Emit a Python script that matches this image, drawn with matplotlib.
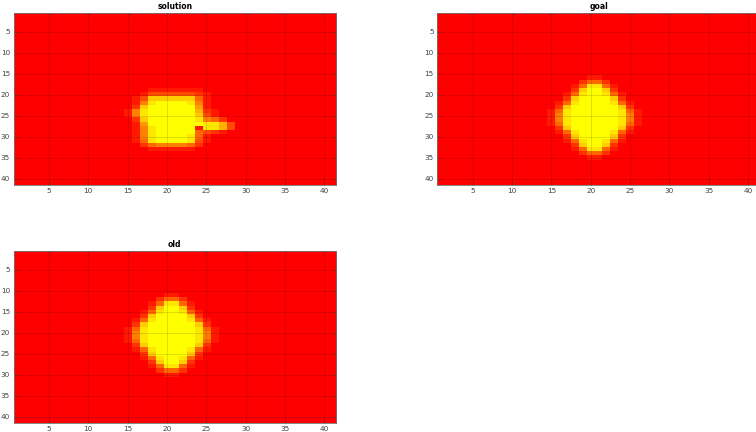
"""Three 41x41 scalar fields (solution / goal / old) drawn imagesc-style with the autumn colormap."""

import matplotlib
matplotlib.use("Agg")
import matplotlib.pyplot as plt
import numpy as np

GRID_N = 41
TICKS = [5, 10, 15, 20, 25, 30, 35, 40]

# ─── Data (values in tenths; everything else is 0) ───────────────────────────

# "old" and "goal" share the same blob; goal sits 5 rows lower.
BLOB_COLS = list(range(15, 27))          # columns 15..26
BLOB = [
    [0, 0, 0, 0, 0, 1, 1, 0, 0, 0, 0, 0],
    [0, 0, 0, 0, 2, 4, 4, 2, 0, 0, 0, 0],
    [0, 0, 0, 1, 4, 9, 9, 4, 1, 0, 0, 0],
    [0, 0, 0, 2, 8, 10, 10, 8, 2, 0, 0, 0],
    [0, 0, 1, 4, 9, 10, 10, 9, 4, 1, 0, 0],
    [0, 0, 2, 8, 10, 10, 10, 10, 8, 2, 0, 0],
    [0, 1, 4, 9, 10, 10, 10, 10, 9, 4, 1, 0],
    [0, 2, 8, 10, 10, 10, 10, 10, 10, 8, 2, 0],
    [1, 4, 9, 10, 10, 10, 10, 10, 10, 9, 4, 1],
    [1, 5, 9, 10, 10, 10, 10, 10, 10, 9, 5, 1],
    [1, 5, 9, 10, 10, 10, 10, 10, 10, 9, 5, 1],
    [1, 4, 9, 10, 10, 10, 10, 10, 10, 9, 4, 1],
    [0, 2, 8, 10, 10, 10, 10, 10, 10, 8, 2, 0],
    [0, 1, 4, 9, 10, 10, 10, 10, 9, 4, 1, 0],
    [0, 0, 2, 8, 10, 10, 10, 10, 8, 2, 0, 0],
    [0, 0, 1, 4, 9, 10, 10, 9, 4, 1, 0, 0],
    [0, 0, 0, 2, 8, 10, 10, 8, 2, 0, 0, 0],
    [0, 0, 0, 1, 4, 9, 9, 4, 1, 0, 0, 0],
    [0, 0, 0, 0, 2, 4, 4, 2, 0, 0, 0, 0],
    [0, 0, 0, 0, 0, 1, 1, 0, 0, 0, 0, 0],
]
OLD_FIRST_ROW = 11
GOAL_FIRST_ROW = 16

SOLUTION_COLS = list(range(15, 29))      # columns 15..28
SOLUTION_FIRST_ROW = 19
SOLUTION = [
    [0, 0, 0, 1, 1, 1, 1, 1, 1, 1, 0, 0, 0, 0],
    [0, 0, 1, 3, 3, 3, 3, 3, 3, 2, 1, 0, 0, 0],
    [0, 1, 3, 8, 8, 8, 8, 8, 8, 4, 1, 0, 0, 0],
    [0, 1, 5, 9, 10, 10, 10, 10, 9, 5, 1, 0, 0, 0],
    [0, 2, 8, 10, 10, 10, 10, 10, 10, 6, 1, 0, 0, 0],
    [1, 5, 9, 10, 10, 10, 10, 10, 10, 7, 2, 1, 0, 0],
    [1, 5, 9, 10, 10, 10, 10, 10, 10, 8, 3, 1, 0, 0],
    [0, 2, 8, 10, 10, 10, 10, 10, 10, 9, 5, 4, 2, 0],
    [0, 1, 6, 10, 10, 10, 10, 10, 10, 10, 9, 9, 7, 3],
    [0, 1, 5, 9, 10, 10, 10, 10, 10, 1, 9, 9, 7, 3],
    [0, 1, 5, 9, 10, 10, 10, 10, 10, 4, 3, 2, 1, 0],
    [0, 1, 5, 9, 10, 10, 10, 10, 9, 4, 1, 0, 0, 0],
    [0, 1, 4, 9, 10, 10, 10, 10, 9, 3, 1, 0, 0, 0],
    [0, 0, 2, 4, 5, 5, 5, 5, 4, 2, 0, 0, 0, 0],
    [0, 0, 0, 1, 1, 1, 1, 1, 1, 0, 0, 0, 0, 0],
]

PANEL_TITLES = ["solution", "goal", "old"]


def place(patch, first_row, cols):
    """Drop a patch (tenths) into an empty 41x41 field, 1-based row/col."""
    field = np.zeros((GRID_N, GRID_N))
    arr = np.asarray(patch, dtype=float) / 10.0
    r0 = first_row - 1
    c0 = cols[0] - 1
    field[r0:r0 + arr.shape[0], c0:c0 + arr.shape[1]] = arr
    return field


# ─── Plot ────────────────────────────────────────────────────────────────────

fields = [
    place(SOLUTION, SOLUTION_FIRST_ROW, SOLUTION_COLS),
    place(BLOB, GOAL_FIRST_ROW, BLOB_COLS),
    place(BLOB, OLD_FIRST_ROW, BLOB_COLS),
]

W, H = 756, 432
fig = plt.figure(figsize=(W / 100, H / 100), dpi=100)

# axes boxes in pixels: (left, top, width, height)
boxes = [(13.5, 12.7, 322.5, 172.3), (437.3, 12.7, 322.5, 172.3), (13.5, 250.8, 322.5, 172.0)]

for (x, y, w, h), field, title in zip(boxes, fields, PANEL_TITLES):
    ax = fig.add_axes([x / W, (H - y - h) / H, w / W, h / H])
    ax.imshow(field, cmap="autumn", vmin=field.min(), vmax=field.max(),
              extent=(0.5, GRID_N + 0.5, GRID_N + 0.5, 0.5),
              interpolation="nearest", aspect="auto")
    ax.set_xticks(TICKS)
    ax.set_yticks(TICKS)
    ax.tick_params(direction="in", length=2.2, width=0.5, labelsize=5.2,
                   colors="0.25", top=True, right=True, pad=2.5)
    ax.grid(True, color="k", alpha=0.15, lw=0.6)
    for s in ax.spines.values():
        s.set_color("0.45")
        s.set_linewidth(0.6)
    ax.set_title(title, fontsize=5.5, fontweight="bold", pad=3)

fig.savefig("out.png", dpi=100)
